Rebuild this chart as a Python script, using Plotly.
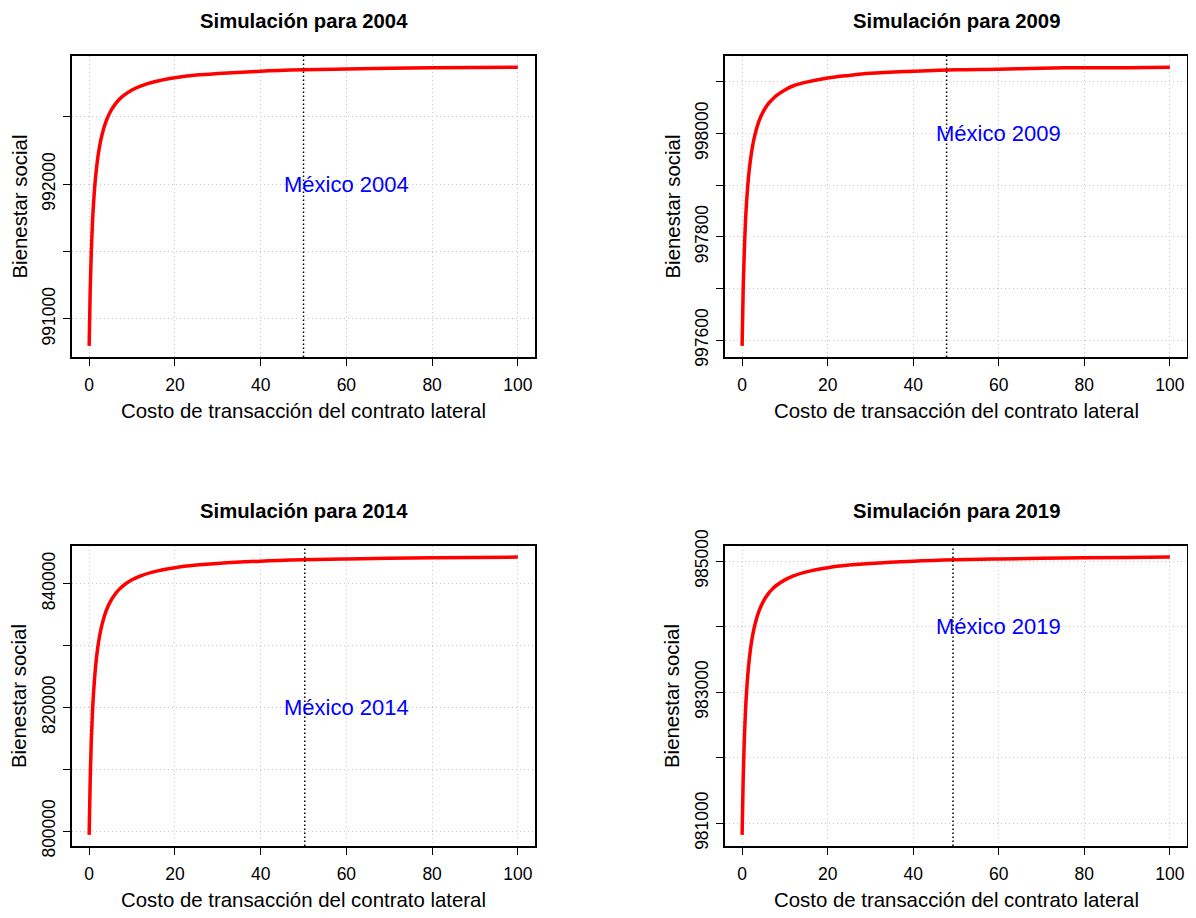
import plotly.graph_objects as go

# ---------------- data ----------------
x_cost = [0, 0.25, 0.5, 0.75, 1, 1.5, 2, 2.5, 3, 4, 5, 6, 7, 8, 10, 12, 15,
          20, 25, 30, 40, 50, 60, 70, 80, 90, 100]

bienestar_2004 = [990800, 991218, 991496, 991695, 991844, 992053, 992192, 992291,
                  992366, 992470, 992540, 992589, 992627, 992656, 992698, 992727,
                  992757, 992788, 992808, 992820, 992837, 992847, 992853, 992858,
                  992862, 992865, 992867]

bienestar_2009 = [997589, 997698, 997770, 997822, 997861, 997916, 997952, 997978,
                  997997, 998025, 998043, 998056, 998065, 998073, 998084, 998092,
                  998099, 998107, 998112, 998116, 998120, 998123, 998124, 998126,
                  998127, 998127, 998128]

bienestar_2014 = [799372, 808447, 814499, 818821, 822060, 826598, 829621, 831782,
                  833404, 835673, 837187, 838265, 839079, 839707, 840624, 841258,
                  841913, 842587, 843005, 843284, 843643, 843859, 844002, 844110,
                  844186, 844249, 844299]

bienestar_2019 = [980823, 981679, 982250, 982657, 982963, 983391, 983676, 983880,
                  984033, 984246, 984389, 984491, 984568, 984627, 984713, 984773,
                  984835, 984899, 984938, 984964, 984998, 985019, 985032, 985042,
                  985049, 985055, 985060]

years = ["2004", "2009", "2014", "2019"]
ref_cost = [50, 47.8, 50.3, 49.3]          # vertical dotted reference lines
label_pos_x = [60, 60, 60, 60]
label_pos_y = [992000, 998000, 820000, 984000]

x_ticks = [0, 20, 40, 60, 80, 100]
y_ticks = [
    [991000, 991500, 992000, 992500],
    [997600, 997700, 997800, 997900, 998000, 998100],
    [800000, 810000, 820000, 830000, 840000],
    [981000, 982000, 983000, 984000, 985000],
]
y_ticktext = [
    ["991000", "", "992000", ""],
    ["997600", "", "997800", "", "998000", ""],
    ["800000", "", "820000", "", "840000"],
    ["981000", "", "983000", "", "985000"],
]

series = [bienestar_2004, bienestar_2009, bienestar_2014, bienestar_2019]

# ---------------- layout ----------------
OFF = 8                      # page (body) margin of the html page
W, H = 1196 - OFF, 918 - OFF
boxes = [  # left, right, top, bottom in window pixels
    (72, 535, 56, 357),
    (725, 1187, 56, 357),
    (72, 535, 546, 846),
    (725, 1187, 546, 846),
]

FONT = "Liberation Sans, Arial, Helvetica, sans-serif"


def px(v):
    return (v - OFF) / W


def py(v):
    return 1 - (v - OFF) / H


fig = go.Figure()
annotations = []
shapes = []

for i, (ys, yr) in enumerate(zip(series, years)):
    n = "" if i == 0 else str(i + 1)
    xa, ya = "x" + n, "y" + n
    l, r, t, b = boxes[i]
    fig.add_trace(go.Scatter(
        x=x_cost, y=ys, mode="lines", xaxis=xa, yaxis=ya,
        line=dict(color="#FF0000", width=3.5, shape="spline"),
        showlegend=False, hoverinfo="x+y"))

    ymin, ymax = min(ys), max(ys)
    pad = 0.04 * (ymax - ymin)
    xmin, xmax = min(x_cost), max(x_cost)
    xpad = 0.04 * (xmax - xmin)

    common = dict(showline=True, mirror=True, linecolor="black", linewidth=1.6,
                  ticks="outside", ticklen=7, tickwidth=1.3, tickcolor="black",
                  showgrid=True, gridcolor="#C8C8C8", griddash="1px,3px", gridwidth=1,
                  zeroline=False, automargin=False,
                  tickfont=dict(family=FONT, size=17.5, color="black"))
    fig.update_layout(**{
        ("xaxis" + n): dict(common, domain=[px(l), px(r)], anchor=ya,
                            range=[xmin - xpad, xmax + xpad],
                            tickvals=x_ticks, ticktext=[str(v) for v in x_ticks],
                            ticklabelstandoff=4),
        ("yaxis" + n): dict(common, domain=[py(b), py(t)], anchor=xa,
                            range=[ymin - pad, ymax + pad],
                            tickvals=y_ticks[i], ticktext=y_ticktext[i],
                            tickangle=-90, ticklabelstandoff=1),
    })

    # vertical dotted reference line
    shapes.append(dict(type="line", xref=xa, yref=ya + " domain",
                       x0=ref_cost[i], x1=ref_cost[i], y0=0, y1=1,
                       line=dict(color="black", width=1.5, dash="1.5px,2.5px")))

    # blue label
    annotations.append(dict(x=label_pos_x[i], y=label_pos_y[i], xref=xa, yref=ya,
                            text="México " + yr, showarrow=False,
                            font=dict(family=FONT, size=22, color="#0000FF"),
                            xanchor="center", yanchor="middle"))
    cx = px((l + r) / 2)
    # panel title
    annotations.append(dict(x=cx, y=py(t - 35), xref="paper", yref="paper",
                            text="<b>Simulación para " + yr + "</b>", showarrow=False,
                            font=dict(family=FONT, size=20.3, color="black"),
                            xanchor="center", yanchor="middle", borderpad=0))
    # x axis title
    annotations.append(dict(x=cx, y=py(b + 54), xref="paper", yref="paper",
                            text="Costo de transacción del contrato lateral",
                            showarrow=False,
                            font=dict(family=FONT, size=20.4, color="black"),
                            xanchor="center", yanchor="middle"))
    # y axis title
    annotations.append(dict(x=px(l - 53), y=py((t + b) / 2),
                            xref="paper", yref="paper",
                            text="Bienestar social", showarrow=False, textangle=-90,
                            font=dict(family=FONT, size=20.4, color="black"),
                            xanchor="center", yanchor="middle"))

fig.update_layout(
    template="none",
    width=W, height=H,
    margin=dict(l=0, r=0, t=0, b=0, pad=0, autoexpand=False),
    font=dict(family=FONT, color="black"),
    paper_bgcolor="white", plot_bgcolor="white",
    annotations=annotations, shapes=shapes,
    showlegend=False,
)

fig.write_html("out.html")
